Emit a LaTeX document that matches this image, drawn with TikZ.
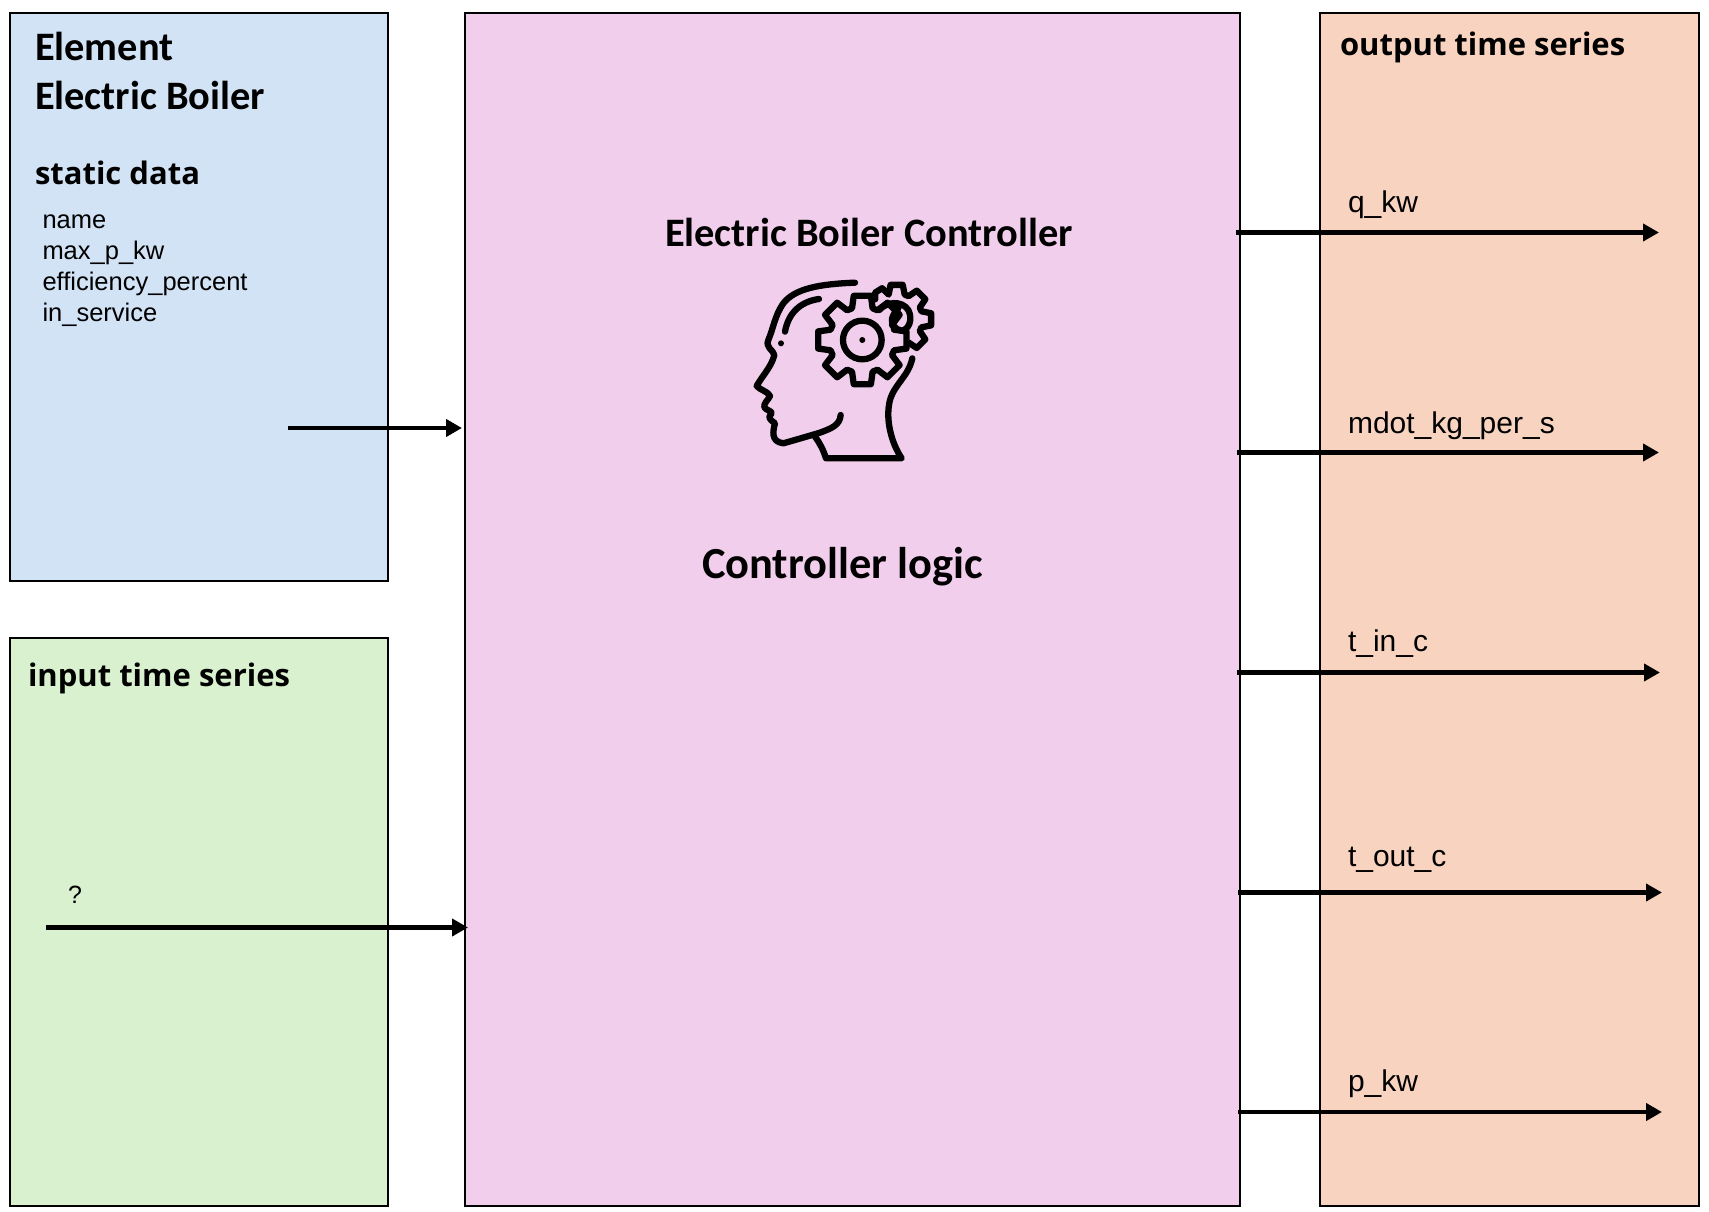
\documentclass[tikz,border=0pt]{standalone}
\usepackage{fontspec}
\usetikzlibrary{arrows.meta}
\setmainfont{Liberation Sans}
\newfontfamily\headfont{Carlito}[BoldFont={Carlito Bold}]
\newfontfamily\subfont{Open Sans}
\definecolor{boxblue}{HTML}{D2E3F6}
\definecolor{boxgreen}{HTML}{DAF1D0}
\definecolor{boxpink}{HTML}{F0CEEC}
\definecolor{boxorange}{HTML}{F8D3BF}
\tikzset{
  panel/.style={draw=black,line width=2pt,anchor=north west,inner sep=0pt,outer sep=0pt},
  flow/.style={line width=4.5pt,-{Triangle[length=16pt,width=17pt]},black},
  txt/.style={anchor=base west,inner sep=0pt,outer sep=0pt,text=black},
  bighead/.style={txt,font=\headfont\bfseries\fontsize{40.4}{40}\selectfont},
  subhead/.style={txt,font=\subfont\bfseries\fontsize{31}{31}\selectfont},
  smalltext/.style={txt,font=\fontsize{25.5}{26}\selectfont},
  portlabel/.style={txt,font=\fontsize{30}{30}\selectfont},
  icon/.style={line width=6.3pt,line cap=round,line join=round,black}
}
\newcommand{\toothpts}[5]{% angle, root r, tip r, half root, half tip
  -- ({#1-#4}:#2) -- ({#1-#5}:#3) -- ({#1+#5}:#3) -- ({#1+#4}:#2)}
\begin{document}
\begin{tikzpicture}[x=1pt,y=-1pt]
\useasboundingbox (0,0) rectangle (1709,1212);
\fill[white] (0,0) rectangle (1709,1212);
\node[panel,fill=boxblue,minimum width=378pt,minimum height=568pt] (blue) at (10,13) {};
\node[panel,fill=boxgreen,minimum width=378pt,minimum height=568pt] (green) at (10,638) {};
\node[panel,fill=boxpink,minimum width=775pt,minimum height=1193pt] (pink) at (465,13) {};
\node[panel,fill=boxorange,minimum width=379pt,minimum height=1193pt] (orange) at (1320,13) {};
\draw[line width=2.6pt] (orange.north west) -- (orange.south west);

\node[bighead] (t1) at (35,61) {Element};
\node[bighead] (t2) at (35,110) {Electric Boiler};
\node[subhead] (t3) at (35,185) {static data};
\node[smalltext] (s1) at (42.5,228) {name};
\node[smalltext] (s2) at (42.5,259) {max\_p\_kw};
\node[smalltext] (s3) at (42.5,290) {efficiency\_percent};
\node[smalltext] (s4) at (42.5,321) {in\_service};
\node[subhead] (t4) at (28,686) {input time series};
\node[txt,font=\fontsize{25}{25}\selectfont] (q) at (68,903) {?};
\node[subhead] (t5) at (1340,56) {output time series};
\node[bighead] (t6) at (665,246.5) {Electric Boiler Controller};
\node[bighead,font=\headfont\bfseries\fontsize{44.4}{44}\selectfont] (t7) at (702,578) {Controller logic};
\node[portlabel] (p1) at (1348,212) {q\_kw};
\node[portlabel] (p2) at (1348,433) {mdot\_kg\_per\_s};
\node[portlabel] (p3) at (1348,651) {t\_in\_c};
\node[portlabel] (p4) at (1348,866) {t\_out\_c};
\node[portlabel] (p5) at (1348,1091) {p\_kw};

\coordinate (a1) at (288,428);
\coordinate (a2) at (46,927.5);
\draw[flow,shorten >=3pt] (a1) -- (pink.west |- a1);
\draw[flow,shorten >=-3pt] (a2) -- (pink.west |- a2);
\coordinate (b1s) at (1236,232.5); \coordinate (b1e) at (1659,232.5);
\coordinate (b2s) at (1237,452.5); \coordinate (b2e) at (1659,452.5);
\coordinate (b3s) at (1237,672.5); \coordinate (b3e) at (1660,672.5);
\coordinate (b4s) at (1238,892.5); \coordinate (b4e) at (1662,892.5);
\coordinate (b5s) at (1238,1112);  \coordinate (b5e) at (1662,1112);
\draw[flow] (b1s) -- (b1e);
\draw[flow] (b2s) -- (b2e);
\draw[flow] (b3s) -- (b3e);
\draw[flow] (b4s) -- (b4e);
\draw[flow] (b5s) -- (b5e);

\begin{scope}[shift={(720,260)},x=0.3333pt,y=-0.3333pt,icon]
  % head outline
  \draw (405,68) .. controls (300,72) and (225,85) .. (190,130)
        .. controls (165,165) and (160,205) .. (145,240)
        .. controls (135,262) and (160,270) .. (163,285)
        .. controls (155,320) and (125,350) .. (110,378)
        .. controls (120,390) and (145,395) .. (150,408)
        .. controls (145,420) and (130,430) .. (133,442)
        .. controls (140,452) and (155,452) .. (155,460)
        .. controls (148,470) and (140,472) .. (165,490)
        .. controls (160,510) and (150,545) .. (190,550)
        .. controls (225,540) and (260,530) .. (300,518)
        .. controls (335,505) and (360,495) .. (362,465);
  \draw (285,530) .. controls (300,550) and (310,570) .. (318,595) -- (545,595)
        .. controls (515,550) and (495,480) .. (510,420)
        .. controls (525,370) and (565,350) .. (577,295);
  \draw (297,117) .. controls (240,125) and (205,160) .. (195,215);
  \fill (183,250) circle (9);
  % small gear, behind the big one
  \draw[shift={(530,178)}]
     (-137:88) -- (-129:103) -- (-115:103) -- (-108:78)
     \toothpts{-90}{78}{105}{18}{10}
     \toothpts{-45}{78}{105}{18}{10}
     \toothpts{0}{78}{105}{18}{10}
     \toothpts{45}{78}{105}{18}{10}
     -- (62:80);
  \draw (478,150) .. controls (500,125) and (545,120) .. (565,150)
        .. controls (580,180) and (565,210) .. (545,212)
        .. controls (525,210) and (510,190) .. (518,170)
        .. controls (522,160) and (528,150) .. (535,145);
  % big gear
  \draw[shift={(427,240)}]
     (-17:105)
     \toothpts{0}{100}{135}{18}{11}
     \toothpts{45}{100}{135}{18}{11}
     \toothpts{90}{100}{135}{18}{11}
     \toothpts{135}{100}{135}{18}{11}
     \toothpts{180}{100}{135}{18}{11}
     \toothpts{225}{100}{135}{18}{11}
     \toothpts{270}{100}{135}{18}{11}
     \toothpts{315}{100}{135}{18}{11}
     -- cycle;
  \draw (427,240) circle (58);
  \fill (427,240) circle (9);
\end{scope}
\end{tikzpicture}
\end{document}
